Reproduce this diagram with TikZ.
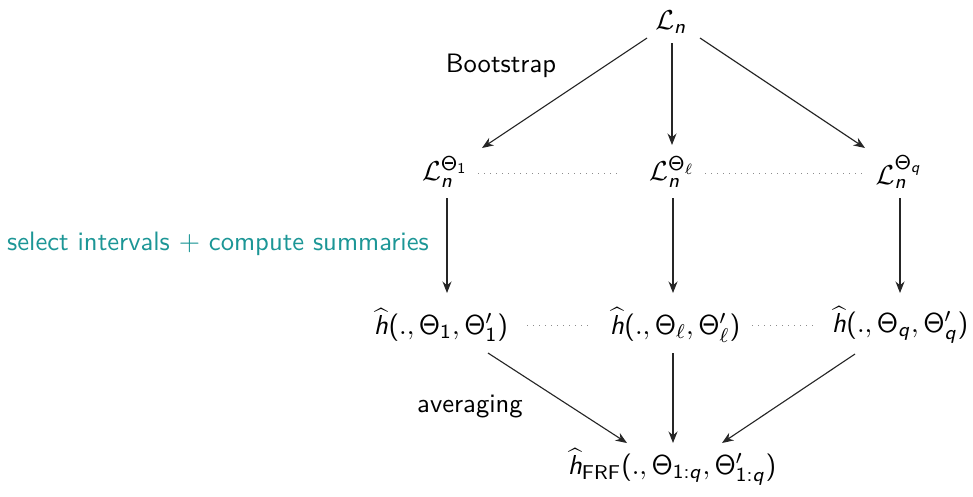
\documentclass[tikz,border=0pt]{standalone}
\usetikzlibrary{arrows.meta,calc}
\DeclareMathAlphabet{\mathsfit}{OT1}{cmss}{m}{sl}
\SetSymbolFont{operators}{normal}{OT1}{cmss}{m}{n}
\DeclareMathSizes{10.65}{10.65}{7.8}{6}
\renewcommand{\familydefault}{\sfdefault}
\definecolor{selteal}{RGB}{28,150,150}
\tikzset{
  lbl/.style={inner sep=0pt, font=\fontsize{10.65}{13}\selectfont},
  arr/.style={-{Stealth[length=4.6pt,width=3.6pt]}, line width=0.45pt, draw=black!85},
  dots/.style={dotted, line width=0.4pt, draw=black!45},
}
\begin{document}
\begin{tikzpicture}[x=0.4pt,y=-0.4pt]
\useasboundingbox (0,0) rectangle (973,496);
\node[lbl] (Ln) at (671,22) {$\mathcal{L}_{\mathsfit{n}}$};
\node[lbl] (L1) at (445,172) {$\mathcal{L}_{\mathsfit{n}}^{\Theta_1}$};
\node[lbl] (Ll) at (672,172) {$\mathcal{L}_{\mathsfit{n}}^{\Theta_\ell}$};
\node[lbl] (Lq) at (899,172) {$\mathcal{L}_{\mathsfit{n}}^{\Theta_{\mathsfit{q}}}$};
\node[lbl] (h1) at (441,325) {$\widehat{\mathsfit{h}}(.,\Theta_1,\Theta'_1)$};
\node[lbl] (hl) at (675,325) {$\widehat{\mathsfit{h}}(.,\Theta_\ell,\Theta'_\ell)$};
\node[lbl] (hq) at (900,325) {$\widehat{\mathsfit{h}}(.,\Theta_{\mathsfit{q}},\Theta'_{\mathsfit{q}})$};
\node[lbl] (hf) at (672,467) {$\widehat{\mathsfit{h}}_{\mathrm{FRF}}(.,\Theta_{1:\mathsfit{q}},\Theta'_{1:\mathsfit{q}})$};
\node[lbl] (boot) at (501,66) {Bootstrap};
\node[lbl,text=selteal] (sel) at (218,244) {select intervals $+$ compute summaries};
\node[lbl] (avg) at (470,407) {averaging};
% top arrows
\draw[arr] ($(Ln)+(-24,16)$) -- ($(L1)+(37,-24)$);
\draw[arr] ($(Ln)+(1,21)$) -- ($(Ll)+(0,-27)$);
\draw[arr] ($(Ln)+(29,16)$) -- ($(Lq)+(-34,-24)$);
% vertical arrows
\draw[arr] ($(L1)+(2,26)$) -- ($(h1)+(6,-32)$);
\draw[arr] ($(Ll)+(1,26)$) -- ($(hl)+(-2,-32)$);
\draw[arr] ($(Lq)+(1,26)$) -- ($(hq)+(0,-32)$);
% bottom arrows
\draw[arr] ($(h1)+(47,28)$) -- ($(hf)+(-45,-24)$);
\draw[arr] ($(hl)+(-2,28)$) -- ($(hf)+(1,-24)$);
\draw[arr] ($(hq)+(-45,29)$) -- ($(hf)+(50,-24)$);
% dotted
\draw[dots] ($(L1)+(33,1)$) -- ($(Ll)+(-52,1)$);
\draw[dots] ($(Ll)+(33,1)$) -- ($(Lq)+(-37,1)$);
\draw[dots] ($(h1)+(86,0)$) -- ($(hl)+(-85,0)$);
\draw[dots] ($(hl)+(77,0)$) -- ($(hq)+(-85,0)$);
\end{tikzpicture}
\end{document}
